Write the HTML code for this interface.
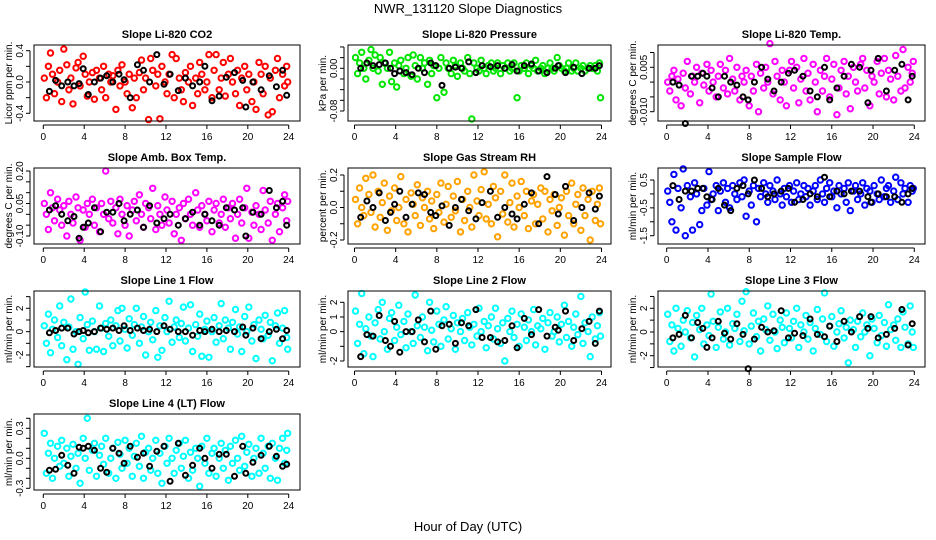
<!DOCTYPE html>
<html><head><meta charset="utf-8"><style>
html,body{margin:0;padding:0;background:#fff}
svg{display:block;font-family:"Liberation Sans",Arial,sans-serif}
</style></head><body>
<svg id="chart" width="936" height="540" viewBox="0 0 936 540" xmlns="http://www.w3.org/2000/svg">
<text x="468" y="13" text-anchor="middle" font-size="13">NWR_131120  Slope Diagnostics</text>
<text x="468" y="531" text-anchor="middle" font-size="13">Hour of Day (UTC)</text>
</svg>
<script>
const hours=[0.1,0.3,0.5,0.7,0.9,1.1,1.4,1.6,1.8,2.0,2.3,2.5,2.7,2.9,3.2,3.4,3.6,3.9,4.1,4.3,4.5,4.8,5.0,5.2,5.5,5.7,5.9,6.1,6.4,6.6,6.8,7.1,7.3,7.5,7.7,8.0,8.2,8.4,8.7,8.9,9.1,9.4,9.6,9.8,10.0,10.3,10.5,10.7,11.0,11.2,11.4,11.6,11.9,12.1,12.3,12.6,12.8,13.0,13.3,13.5,13.7,13.9,14.2,14.4,14.6,14.9,15.1,15.3,15.5,15.8,16.0,16.2,16.5,16.7,16.9,17.2,17.4,17.6,17.8,18.1,18.3,18.5,18.8,19.0,19.2,19.4,19.7,19.9,20.1,20.4,20.6,20.8,21.1,21.3,21.5,21.7,22.0,22.2,22.4,22.7,22.9,23.1,23.4,23.6,23.8,23.9];
const blackHours=[0.6,1.2,1.8,2.4,3.0,3.5,3.9,4.4,5.0,5.6,6.2,6.8,7.4,7.9,8.5,9.2,9.8,10.4,11.1,11.8,12.4,13.2,13.9,14.6,15.3,15.8,16.5,17.2,17.9,18.7,19.5,19.8,20.5,21.3,22.1,22.8,23.4,23.8];
const xTicks=[0,4,8,12,16,20,24];

const co2=[.05,-.2,.2,.37,.1,-.15,.0,.15,-.25,.42,.22,-.1,.05,-.28,.18,.25,-.05,.33,.1,-.18,.0,.12,-.22,.15,.05,-.1,.2,-.2,.1,.0,.08,-.35,.15,-.05,.22,.0,-.15,.1,-.33,.05,-.2,.12,.28,-.1,.05,-.48,.3,.15,-.05,.1,-.47,.2,.0,-.15,.1,.35,-.2,.3,.05,-.1,-.25,.12,.0,.2,-.3,.05,-.15,.25,.1,-.1,.0,.35,-.2,.15,.35,-.1,.05,.25,-.18,.1,.3,.0,-.15,.15,-.3,.05,.2,-.1,.1,-.25,.0,-.35,.25,.1,-.15,.2,-.42,.05,-.38,.15,.3,-.2,.1,-.05,.2,0.0];
const co2Black=[-.12,.02,-.05,.0,-.05,-.02,.17,-.16,.0,.05,.08,.0,.1,.03,-.2,.22,.15,.0,.35,-.03,.1,-.11,.05,-.05,.0,.2,-.24,-.18,.06,.12,.02,-.32,.0,-.1,.08,-.06,.15,-.17];
const pressure=[.02,-.01,.01,.03,.0,-.02,.015,.035,.0,.025,-.005,.02,-.03,.01,.0,.03,-.025,.01,-.035,.005,.015,-.01,.0,.02,-.015,.025,.005,-.02,.02,.0,.01,-.03,.015,-.01,.005,-.055,.0,.02,-.045,.01,.0,-.01,.015,.005,-.015,.01,.0,-.005,.02,-.01,-.095,.01,.0,-.005,.015,.0,-.01,.005,.01,-.005,.0,.01,-.01,.005,.0,.01,-.005,.0,.01,-.055,-.005,.005,.0,.01,-.01,.005,.0,.015,-.005,.0,.005,-.01,.0,.01,.0,-.005,.02,.005,.0,-.005,.0,.01,-.005,.0,.01,-.005,.0,.005,-.005,.0,.005,.0,.005,-.005,.01,-.055];
const pressureBlack=[.0,.01,.005,.007,.01,.0,-.01,-.005,-.008,-.012,.0,-.008,.01,.005,-.032,.0,.002,.0,.012,-.008,.005,.003,.005,.0,.007,-.005,.005,.008,-.005,-.008,.0,.005,-.008,.002,-.01,.0,.0,.005];
const temp=[.0,-.003,.002,.004,-.006,.001,-.008,.003,-.002,.007,-.004,.002,.0,.005,-.007,.003,-.001,.006,-.003,.004,.0,-.005,.002,.006,-.002,.004,-.004,.008,.001,-.003,.005,-.006,.002,.0,.004,-.008,.002,-.003,.006,-.01,.003,-.002,.005,.0,.013,-.004,.007,.002,-.006,.004,.0,-.008,.004,.007,-.002,.005,-.007,.001,.008,-.003,.003,-.006,.006,.0,-.01,.004,-.003,.002,.008,-.005,.001,.006,-.011,-.002,.004,.007,-.004,.002,-.009,.005,.0,-.003,.006,.008,-.002,.004,-.008,.002,.0,.007,-.004,.003,.008,-.005,.004,.001,-.006,.009,.002,-.003,.011,-.002,.005,.0,.003,.007];
const tempBlack=[.0,-.001,-.014,.002,.002,.003,.002,-.002,-.005,.002,.0,-.001,-.005,-.006,.0,.005,.001,-.003,.0,.003,.004,.002,-.003,-.005,.005,-.006,-.002,.002,.006,.005,-.007,.004,.008,-.003,.004,.006,-.006,.002];
const ambTemp=[.05,.0,-.07,.1,.03,-.03,.07,.02,-.05,.04,-.1,.06,.0,-.04,.08,.03,-.12,.02,-.06,.05,.0,.07,-.05,.03,-.08,.05,.0,.2,-.02,.06,-.04,.03,-.09,.07,.0,-.05,.04,-.1,.02,.06,-.03,.09,.0,-.06,.05,.03,-.02,.12,-.07,.04,.0,-.05,.08,.02,-.04,.06,-.09,.0,.03,-.12,.05,-.02,.07,.0,-.05,.1,.02,-.06,.04,.0,-.03,.06,-.08,.02,.05,-.04,.0,.07,-.06,.03,-.02,.05,-.11,.0,.07,-.04,.03,.12,-.11,.01,-.05,.04,.0,-.07,.11,.02,-.04,.06,-.12,.0,.05,-.08,.03,.09,-.03,.06];
const ambTempBlack=[.02,.04,.0,-.03,-.01,-.11,-.06,-.04,.03,-.08,.01,.01,.05,-.03,.0,.02,-.06,.04,-.04,-.02,.0,-.05,-.02,.01,-.05,.0,-.03,-.05,.03,.02,.03,-.1,.01,.0,.11,.03,.06,-.05];
const gasRH=[.05,-.1,.12,.0,-.05,.18,.08,-.03,.2,-.12,.1,-.06,.03,.15,-.14,.07,-.02,.12,-.08,.0,.19,-.1,.05,-.15,.09,.02,-.05,.14,-.11,.06,.0,.1,-.07,.04,-.13,.08,-.03,.15,-.09,.02,.13,-.06,.07,-.02,.16,-.15,.05,-.08,.1,.0,-.12,.2,.04,-.05,.11,.22,-.07,.02,-.1,.13,.06,-.18,.1,-.04,.2,-.09,.03,.15,-.12,.07,.0,.16,-.05,.1,-.13,.04,.08,-.1,.02,.12,-.07,.1,-.15,.05,-.02,.08,-.11,.0,.06,-.17,.1,-.05,.15,-.1,.02,.08,-.14,.12,-.05,.05,-.2,.1,-.08,.02,.12,-.1];
const gasRHBlack=[-.06,.04,.0,.09,-.08,-.03,.02,.1,-.06,.02,.09,.08,-.03,-.05,.01,-.11,.0,.05,-.02,-.07,.03,.1,-.06,.0,-.04,-.07,.02,.09,-.1,.19,.08,-.04,.13,-.08,.0,.09,-.01,.07];
const sampleFlow=[.1,-.3,-1.0,.7,-1.3,.2,-.5,.9,-1.5,.3,-.1,-1.3,.4,.0,-1.1,-.6,.2,-.4,.8,-.2,.0,.3,-.6,.1,.4,-.3,.2,-.5,.3,.0,-.2,.4,-.1,.5,-.8,.1,-.4,.3,-1.0,.2,-.1,.4,.0,-.3,.3,.1,-.2,.5,.0,-.4,.2,-.1,.3,-.3,.1,.4,-.2,.0,.3,-.1,.2,-.4,.1,.3,-.2,.5,.0,-.3,.2,.4,-.1,.1,-.5,.3,.0,.2,-.3,.4,-.6,.1,.3,-.2,.0,.4,-.4,.2,.1,-.3,.3,.0,-.2,.5,-.1,.2,.3,-.3,.1,.6,-.2,.4,.0,.2,-.3,.3,.1,.2];
const sampleFlowBlack=[.3,-.2,.1,.1,.2,.2,-.1,-.2,.2,-.4,-.6,.2,.3,.0,.5,.2,-.1,.0,.1,.2,-.3,-.2,.0,-.1,.6,-.1,.1,.0,.1,.1,-.1,-.3,.0,-.1,-.1,-.3,.0,.2];
const line1=[.5,-1.0,1.5,-1.8,.2,1.0,-.5,2.2,-1.2,.8,-2.4,.4,2.8,-1.5,.0,-2.8,1.2,-.6,3.4,.6,-1.6,.9,.0,-1.5,2.2,.3,-1.7,.7,-.4,1.0,-1.2,.5,1.8,-.8,2.0,.2,-1.4,1.1,-.3,.6,2.0,-1.0,.4,1.3,-2.0,.0,.8,-.7,1.8,-2.2,.5,-1.6,1.2,.0,2.6,-.9,.4,1.0,-.5,.7,2.1,-.8,.3,2.3,-1.7,.6,-.4,1.5,-2.1,.2,.9,-2.2,.0,1.2,-.9,.5,2.4,-.6,1.0,.3,-1.5,.8,1.9,-.2,.4,-1.7,1.3,.0,2.1,-.8,.6,-2.3,1.0,.2,-.6,1.4,-.3,.8,-2.5,.5,1.6,-1.0,.3,1.8,-.5,-1.5];
const line1Black=[-.1,.1,.3,.3,-.2,.0,.1,-.1,.0,.3,.2,.3,.1,.5,.1,.3,.1,.2,.0,.5,.2,.0,.0,-.3,.1,.0,.2,.0,.1,.0,.4,-.3,.3,-.6,.0,.2,-.6,.1];
const line2=[1.4,-.8,.5,2.6,-1.5,.2,1.0,-.3,-1.7,.6,1.5,-.5,2.0,.0,-1.2,.9,1.3,-.6,.3,1.8,-.2,.7,-1.1,1.2,.0,-.8,2.5,.4,-.4,1.0,.3,-1.3,2.0,.1,-.7,1.4,.5,-1.0,.8,1.7,-.5,.2,1.1,-1.2,.6,.0,.9,-.6,1.3,.3,-.9,.5,-.3,1.6,.0,.7,-1.1,.4,1.0,-.5,1.6,.2,-.8,.6,-2.0,.9,.0,1.4,-.4,.5,-1.0,1.2,.3,-.6,.8,.0,1.5,-.9,.4,.2,.9,-1.2,.6,1.3,-.3,.0,1.0,-.7,.5,1.8,-.4,.7,-1.0,.3,1.2,-.2,2.4,-.8,.6,.0,-1.7,1.0,-.5,.4,1.3,-.3];
const line2Black=[-1.7,-.2,-.3,1.1,-.6,-1.0,.7,-1.4,.0,.0,.8,-.7,1.4,-1.2,.4,.5,-.8,.6,.4,1.5,-.4,-.4,-.7,-.6,.4,-1.1,.9,-.2,1.5,-.3,.3,.1,1.4,-.6,.2,.7,-.8,1.4];
const line3=[1.5,-.8,.6,-1.6,2.0,.3,-1.2,1.0,.0,1.8,-.5,.8,-2.1,1.4,.2,2.0,-1.0,.6,-.3,3.2,.9,-1.3,.4,1.7,-.6,.0,2.0,-1.1,.7,.3,1.5,-.8,2.6,.1,3.4,-1.0,.5,1.6,-.4,.9,-1.6,1.1,.2,2.2,-.7,1.5,.0,-1.4,1.0,.4,-.9,1.6,.3,-.5,.9,2.0,-1.3,.6,.0,1.4,-.6,.8,-1.6,.3,1.9,-.2,1.1,3.3,-.8,.5,1.3,-1.2,.0,.7,1.8,-.5,.4,-2.6,1.0,.2,-1.3,.9,-.4,1.6,.0,.6,-2.0,1.1,.3,-.9,1.4,-.3,.8,-1.2,2.3,.2,.6,-.7,1.1,-1.3,1.7,.4,-1.0,2.2,.0,-1.3];
const line3Black=[-.5,-.2,1.4,-.5,.8,.3,-1.3,-.5,.9,-.1,-.6,.7,-.2,-3.1,-.6,.4,.0,.1,1.8,-.5,-.1,-.3,1.1,-.2,-.4,.5,-.8,.9,.0,1.3,.3,1.3,-.5,-.2,.3,1.9,-1.1,.7];
const line4=[.25,-.15,.05,.15,-.2,.0,.12,-.08,.18,-.05,.1,-.18,.02,.14,-.1,.05,-.25,.2,.0,.4,-.12,.08,.15,-.18,.03,.12,-.06,.2,-.15,.0,.1,-.2,.16,.04,-.1,.18,-.05,.1,-.18,.02,.15,-.08,.22,-.2,.06,.1,-.12,.0,.18,-.15,.05,-.25,.12,-.05,.2,.0,-.15,.08,.15,-.1,.02,.18,-.2,.06,-.12,.1,.0,-.28,.12,-.05,.2,-.15,.05,.1,-.18,.0,.15,-.1,.08,-.22,.12,-.05,.18,.0,-.12,.22,-.08,.06,.14,-.18,.0,.1,-.15,.2,.05,-.1,.12,-.2,.15,.0,-.22,.1,.2,-.05,.08,.25];
const line4Black=[-.12,-.11,.03,-.07,-.15,.11,.1,.12,.08,-.1,-.14,.1,.05,-.05,.12,.01,.05,-.08,.07,.12,-.23,.15,-.17,-.07,.1,.0,-.1,.04,.04,-.18,.12,-.15,-.04,.03,.12,.02,-.08,-.06];

const co2Ticks=[0.4,0.2,0,-0.2,-0.4], co2Labels=["0.4","","0.0","","-0.4"];
const pressureTicks=[0.04,0.02,0,-0.02,-0.04,-0.06,-0.08], pressureLabels=["","","0.00","","","","-0.08"];
const tempTicks=[0.01,0.005,0,-0.005,-0.01], tempLabels=["","0.005","","","-0.010"];
const ambTicks=[0.2,0.15,0.1,0.05,0,-0.05,-0.1], ambLabels=["0.20","","","0.05","","","-0.10"];
const rhTicks=[0.2,0.1,0,-0.1,-0.2], rhLabels=["0.2","","0.0","","-0.2"];
const sampleTicks=[0.5,0,-0.5,-1,-1.5], sampleLabels=["0.5","","-0.5","","-1.5"];
const line1Ticks=[3,2,1,0,-1,-2,-3], line1Labels=["","2","","0","","-2",""];
const line2Ticks=[2,1,0,-1,-2], line2Labels=["2","1","0","","-2"];
const line3Ticks=[3,2,1,0,-1,-2,-3], line3Labels=["","2","","0","","-2",""];
const line4Ticks=[0.4,0.3,0.2,0.1,0,-0.1,-0.2,-0.3], line4Labels=["","0.3","","","0.0","","","-0.3"];

const NS="http://www.w3.org/2000/svg";
const svg=document.getElementById('chart');
const cols=[{l:34,r:300,x0:43.3,x24:288.7},{l:348,r:611,x0:354.5,x24:601.5},{l:658,r:925,x0:666.7,x24:914.3}];
const rows=[45,168,291,414];
const panels=[
 {name:'co2',title:'Slope Li-820 CO2',yl:'Licor ppm per min.',c:0,r:0,color:'#ff0000',y:co2,yb:co2Black,t:co2Ticks,tl:co2Labels,v0:0.4,p0:50.7,v1:-0.4,p1:113.3},
 {name:'pressure',title:'Slope Li-820 Pressure',yl:'kPa per min.',c:1,r:0,color:'#00e600',y:pressure,yb:pressureBlack,t:pressureTicks,tl:pressureLabels,v0:0,p0:68.3,v1:-0.08,p1:111},
 {name:'temp',title:'Slope Li-820 Temp.',yl:'degrees C per min.',c:2,r:0,color:'#ff00ff',y:temp,yb:tempBlack,t:tempTicks,tl:tempLabels,v0:0.005,p0:67.3,v1:-0.01,p1:111.7},
 {name:'amb-box-temp',title:'Slope Amb. Box Temp.',yl:'degrees C per min.',c:0,r:1,color:'#ff00ff',y:ambTemp,yb:ambTempBlack,t:ambTicks,tl:ambLabels,v0:0.2,p0:171,v1:-0.1,p1:236},
 {name:'gas-rh',title:'Slope Gas Stream RH',yl:'percent per min.',c:1,r:1,color:'#ffa200',y:gasRH,yb:gasRHBlack,t:rhTicks,tl:rhLabels,v0:0.2,p0:175,v1:-0.2,p1:240},
 {name:'sample-flow',title:'Slope Sample Flow',yl:'ml/min per min.',c:2,r:1,color:'#0000ff',y:sampleFlow,yb:sampleFlowBlack,t:sampleTicks,tl:sampleLabels,v0:0.5,p0:180,v1:-1.5,p1:235.7},
 {name:'line1-flow',title:'Slope Line 1 Flow',yl:'ml/min per min.',c:0,r:2,color:'#00ffff',y:line1,yb:line1Black,t:line1Ticks,tl:line1Labels,v0:2,p0:308.3,v1:-2,p1:355},
 {name:'line2-flow',title:'Slope Line 2 Flow',yl:'ml/min per min.',c:1,r:2,color:'#00ffff',y:line2,yb:line2Black,t:line2Ticks,tl:line2Labels,v0:2,p0:302.3,v1:-2,p1:361},
 {name:'line3-flow',title:'Slope Line 3 Flow',yl:'ml/min per min.',c:2,r:2,color:'#00ffff',y:line3,yb:line3Black,t:line3Ticks,tl:line3Labels,v0:2,p0:308.3,v1:-2,p1:355.7},
 {name:'line4-flow',title:'Slope Line 4 (LT) Flow',yl:'ml/min per min.',c:0,r:3,color:'#00ffff',y:line4,yb:line4Black,t:line4Ticks,tl:line4Labels,v0:0.3,p0:428.3,v1:-0.3,p1:488.3}
];
function mk(tag,attrs,parent){const e=document.createElementNS(NS,tag);for(const k in attrs)e.setAttribute(k,attrs[k]);parent.appendChild(e);return e;}
panels.forEach(p=>{
  const col=cols[p.c], top=rows[p.r], bot=top+76;
  const xs=h=>col.x0+(col.x24-col.x0)*h/24;
  const ys=v=>p.p0+(p.p1-p.p0)*(v-p.v0)/(p.v1-p.v0);
  const g=mk('g',{},svg);
  
  
  const t=mk('text',{x:(col.l+col.r)/2,y:top-7,'text-anchor':'middle','font-size':'11','font-weight':'bold'},g);
  
  
  t.textContent=p.title;
  const pts=mk('g',{fill:'none',stroke:p.color,'stroke-width':'2'},g);
  
  
  const n=Math.min(hours.length,p.y.length);
  for(let i=0;i<n;i++){
    const c=mk('circle',{cx:xs(hours[i]).toFixed(1),cy:ys(p.y[i]).toFixed(1),r:'2.7'},pts);
    
    
  }
  const bp=mk('g',{fill:'none',stroke:'#000','stroke-width':'2'},g);
  
  
  const nb=Math.min(blackHours.length,p.yb.length);
  for(let i=0;i<nb;i++){
    const c=mk('circle',{cx:xs(blackHours[i]).toFixed(1),cy:ys(p.yb[i]).toFixed(1),r:'2.5'},bp);
    
    
  }
  const box=mk('rect',{x:col.l,y:top,width:col.r-col.l,height:76,fill:'none',stroke:'#000','stroke-width':'1'},g);
  
  
  const xa=mk('g',{'font-size':'10'},g);
  
  
  mk('line',{x1:xs(0),x2:xs(24),y1:bot+4,y2:bot+4,stroke:'#000'},xa);
  xTicks.forEach(h=>{
    mk('line',{x1:xs(h),x2:xs(h),y1:bot+4,y2:bot+8,stroke:'#000'},xa);
    const l=mk('text',{x:xs(h),y:bot+19,'text-anchor':'middle'},xa);
    l.textContent=String(h);
  });
  const ya=mk('g',{'font-size':'10'},g);
  
  
  const ax=col.l-4;
  mk('line',{x1:ax,x2:ax,y1:ys(p.t[0]),y2:ys(p.t[p.t.length-1]),stroke:'#000'},ya);
  p.t.forEach((v,i)=>{
    const y=ys(v);
    mk('line',{x1:ax-4,x2:ax,y1:y,y2:y,stroke:'#000'},ya);
    if(p.tl[i]){
      const l=mk('text',{x:ax-7,y:y,'text-anchor':'middle',transform:`rotate(-90 ${ax-7} ${y})`},ya);
      l.textContent=p.tl[i];
    }
  });
  const yt=mk('text',{x:col.l-22,y:(top+bot)/2,'text-anchor':'middle','font-size':'10',transform:`rotate(-90 ${col.l-22} ${(top+bot)/2})`},g);
  
  
  yt.textContent=p.yl;
});
</script>
</body></html>
